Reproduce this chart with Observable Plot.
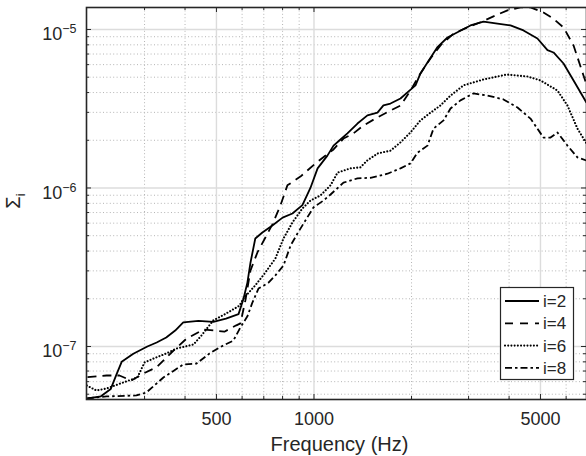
<!DOCTYPE html>
<html><head><meta charset="utf-8">
<script src="https://cdn.jsdelivr.net/npm/d3@7"></script>
<script src="https://cdn.jsdelivr.net/npm/@observablehq/plot@0.6"></script>
<style>body{margin:0;background:#fff} #chart{position:relative;width:586px;height:456px}</style>
</head><body><div id="chart"></div>
<script>
// ---- data ----
const freq2 = [200,220,236,246,255,277,306,327,350,373,395,440,489,535,585,606,623,637,659,693,744,800,858,921,975,1026,1100,1149,1200,1268,1362,1462,1570,1638,1722,1849,1943,2057,2131,2240,2400,2582,2772,3040,3335,3684,4040,4431,4893,5255,5485,5890,6325,6787,6934];
const val2 = [4.7e-8,4.85e-8,5.4e-8,6.7e-8,8.0e-8,9.0e-8,1.0e-7,1.06e-7,1.14e-7,1.26e-7,1.42e-7,1.45e-7,1.43e-7,1.5e-7,1.6e-7,2.0e-7,2.53e-7,3.39e-7,4.8e-7,5.24e-7,5.8e-7,6.5e-7,6.9e-7,7.8e-7,1.0e-6,1.33e-6,1.6e-6,1.85e-6,2.0e-6,2.21e-6,2.55e-6,2.87e-6,2.99e-6,3.32e-6,3.41e-6,3.67e-6,4.01e-6,4.44e-6,5.28e-6,6.19e-6,7.7e-6,8.9e-6,9.6e-6,1.06e-5,1.12e-5,1.09e-5,1.06e-5,9.86e-6,8.77e-6,7.4e-6,7.16e-6,6.1e-6,4.77e-6,3.72e-6,3.45e-6];
const freq4 = [200,229,251,273,298,327,368,404,456,493,529,576,593,614,637,669,708,744,788,828,908,1011,1149,1233,1324,1422,1570,1722,1849,1985,2131,2288,2457,2700,2977,3264,3580,3955,4339,4657,5107,5480,5890,6325,6787,6934];
const val4 = [6.4e-8,6.56e-8,6.56e-8,6.1e-8,6.76e-8,7.4e-8,9.4e-8,1.12e-7,1.28e-7,1.26e-7,1.24e-7,1.36e-7,1.4e-7,1.95e-7,3.02e-7,3.92e-7,4.87e-7,5.89e-7,7.76e-7,1.04e-6,1.18e-6,1.43e-6,1.75e-6,2.05e-6,2.21e-6,2.48e-6,2.79e-6,3.08e-6,3.31e-6,4.12e-6,5.28e-6,6.56e-6,7.93e-6,9.44e-6,1.03e-5,1.11e-5,1.21e-5,1.32e-5,1.38e-5,1.38e-5,1.28e-5,1.17e-5,1.03e-5,7.93e-6,5.13e-6,4.5e-6];
const freq6 = [199,213,229,258,285,300,320,350,376,425,449,489,537,589,606,659,708,760,805,858,921,976,1047,1125,1182,1296,1391,1460,1570,1722,1849,1985,2131,2290,2457,2638,2893,3340,3940,4560,5000,5641,6058,6502,6934];
const val6 = [5.67e-8,5.28e-8,5.43e-8,5.93e-8,6.37e-8,7.93e-8,8.4e-8,9.03e-8,9.7e-8,1.03e-7,1.17e-7,1.46e-7,1.62e-7,1.81e-7,2.01e-7,2.43e-7,2.93e-7,3.59e-7,4.8e-7,6.06e-7,7.42e-7,8.34e-7,8.97e-7,1.04e-6,1.25e-6,1.33e-6,1.35e-6,1.49e-6,1.65e-6,1.72e-6,1.94e-6,2.24e-6,2.67e-6,2.99e-6,3.32e-6,3.83e-6,4.44e-6,4.84e-6,5.2e-6,5.05e-6,4.77e-6,4.12e-6,3.31e-6,2.37e-6,1.91e-6];
const freq8 = [199,229,283,304,343,395,434,476,511,564,593,623,646,674,724,760,805,847,889,941,996,1070,1125,1233,1362,1494,1686,1849,1985,2086,2240,2338,2511,2638,2831,3106,3431,3844,4246,4657,5107,5370,5641,6058,6502,6934];
const val8 = [4.7e-8,4.84e-8,4.91e-8,5.13e-8,6.37e-8,7.7e-8,7.81e-8,9.03e-8,9.86e-8,1.09e-7,1.32e-7,1.55e-7,1.9e-7,2.32e-7,2.53e-7,2.81e-7,3.24e-7,4.34e-7,5.16e-7,6.24e-7,7.53e-7,8.34e-7,9.1e-7,1.08e-6,1.15e-6,1.16e-6,1.23e-6,1.33e-6,1.43e-6,1.67e-6,1.85e-6,2.37e-6,2.67e-6,3.17e-6,3.57e-6,3.95e-6,3.83e-6,3.62e-6,3.22e-6,2.74e-6,2.08e-6,2.08e-6,2.24e-6,1.85e-6,1.56e-6,1.49e-6];

const seriesNames = ["i=2","i=4","i=6","i=8"];
const xMajor = [500, 1000, 5000];
const xMinor = [300, 400, 600, 700, 800, 900, 2000, 3000, 4000, 6000];
const yMajor = [1e-7, 1e-6, 1e-5];
const yMinor = [5e-8,6e-8,7e-8,8e-8,9e-8,2e-7,3e-7,4e-7,5e-7,6e-7,7e-7,8e-7,9e-7,2e-6,3e-6,4e-6,5e-6,6e-6,7e-6,8e-6,9e-6];
const xDomain = [198.6, 6934];
const yDomain = [4.63e-8, 1.376e-5];
const xLabel = "Frequency (Hz)";
const yLabel = ["Σ", "i"];

// ---- layout / style ----
const W = 586, H = 456, mL = 86, mT = 7, mB = 57, mR = 0;
const innerW = W - mL - mR, innerH = H - mT - mB;
const ink = "#262626";
const dashes = [null, "9,6", "0.01,3.2", "7,3,2.5,3"];
const caps = ["butt", "butt", "round", "butt"];
const lineW = 1.8;

const table = [];
[[freq2,val2],[freq4,val4],[freq6,val6],[freq8,val8]].forEach(([f,v],k)=>{
  f.forEach((fr,i)=>table.push({series: seriesNames[k], f: fr, v: v[i]}));
});

const lines = seriesNames.map((s,k)=>Plot.line(table.filter(d=>d.series===s), {
  x: "f", y: "v", stroke: "#000", strokeWidth: k===2 ? 2.1 : lineW,
  strokeDasharray: dashes[k] || undefined, strokeLinecap: caps[k], clip: true, strokeLinejoin: "round"
}));

const chart = Plot.plot({
  width: W, height: H,
  marginLeft: mL, marginTop: mT, marginBottom: mB, marginRight: mR,
  style: {fontFamily: "'Liberation Sans', Arial, Helvetica, sans-serif", color: ink, background: "#fff", overflow: "visible"},
  x: {type: "log", domain: xDomain},
  y: {type: "log", domain: yDomain},
  marks: [
    Plot.ruleX(xMinor, {stroke: "#b4b4b4", strokeDasharray: "1,2.4", strokeWidth: 1}),
    Plot.ruleY(yMinor, {stroke: "#b4b4b4", strokeDasharray: "1,2.4", strokeWidth: 1}),
    Plot.ruleX(xMajor, {stroke: "#dcdcdc", strokeWidth: 1.4}),
    Plot.ruleY(yMajor, {stroke: "#dcdcdc", strokeWidth: 1.4}),
    ...lines,
    Plot.frame({stroke: ink, strokeWidth: 1.6}),
    Plot.tickX(xMajor, {stroke: ink, insetTop: innerH - 5}),
    Plot.tickX(xMajor, {stroke: ink, insetBottom: innerH - 5}),
    Plot.tickX(xMinor, {stroke: ink, insetTop: innerH - 3}),
    Plot.tickX(xMinor, {stroke: ink, insetBottom: innerH - 3}),
    Plot.tickY(yMajor, {stroke: ink, insetRight: innerW - 5}),
    Plot.tickY(yMajor, {stroke: ink, insetLeft: innerW - 5}),
    Plot.tickY(yMinor, {stroke: ink, insetRight: innerW - 3}),
    Plot.tickY(yMinor, {stroke: ink, insetLeft: innerW - 3}),
    Plot.axisX({ticks: xMajor, tickSize: 0, tickPadding: 13, fontSize: 18, tickFormat: d => String(d), label: null}),
    Plot.axisY({ticks: yMajor, tickSize: 0, tickPadding: 10, fontSize: 18, dy: 5, tickFormat: d => String(Math.round(Math.log10(d))), label: null}),
    Plot.text([xLabel], {text: d => d, frameAnchor: "bottom", lineAnchor: "middle", dy: 45, dx: 3, fontSize: 20, fill: ink})
  ]
});

const svg = d3.select(chart);
// superscript exponents on y tick labels
svg.selectAll('g[aria-label="y-axis tick label"] text').each(function(){
  const e = this.textContent.replace("-", "\u2212");
  const t = d3.select(this);
  t.text(null);
  t.append("tspan").text("10");
  t.append("tspan").attr("dy", -7).attr("font-size", 12.5).text(e);
});
// y label with subscript
const yl = svg.append("text")
  .attr("transform", `translate(20,${mT + innerH/2 - 2}) rotate(-90)`)
  .attr("text-anchor", "middle").attr("fill", ink).attr("font-size", 20);
yl.append("tspan").text(yLabel[0]);
yl.append("tspan").attr("dy", 5).attr("font-size", 13).text(yLabel[1]);

// legend (MATLAB-style box, inside lower right of axes)
const lg = svg.append("g").attr("transform", `translate(${W - 86},${mT + 280})`);
lg.append("rect").attr("x", 0.5).attr("y", 0.5).attr("width", 73).attr("height", 92)
  .attr("fill", "#fff").attr("stroke", ink).attr("stroke-width", 1.2);
seriesNames.forEach((s,k)=>{
  const y = 14 + k*22.3;
  lg.append("line").attr("x1", 5).attr("x2", 39).attr("y1", y).attr("y2", y)
    .attr("stroke", "#000").attr("stroke-width", k===2 ? 2.1 : lineW)
    .attr("stroke-linecap", caps[k])
    .attr("stroke-dasharray", k===1 ? "8,7" : dashes[k]);
  lg.append("text").attr("x", 43).attr("y", y + 6).attr("text-anchor", "start")
    .attr("font-size", 17).attr("fill", ink).text(s);
});

document.getElementById("chart").appendChild(chart);
</script>
</body></html>
